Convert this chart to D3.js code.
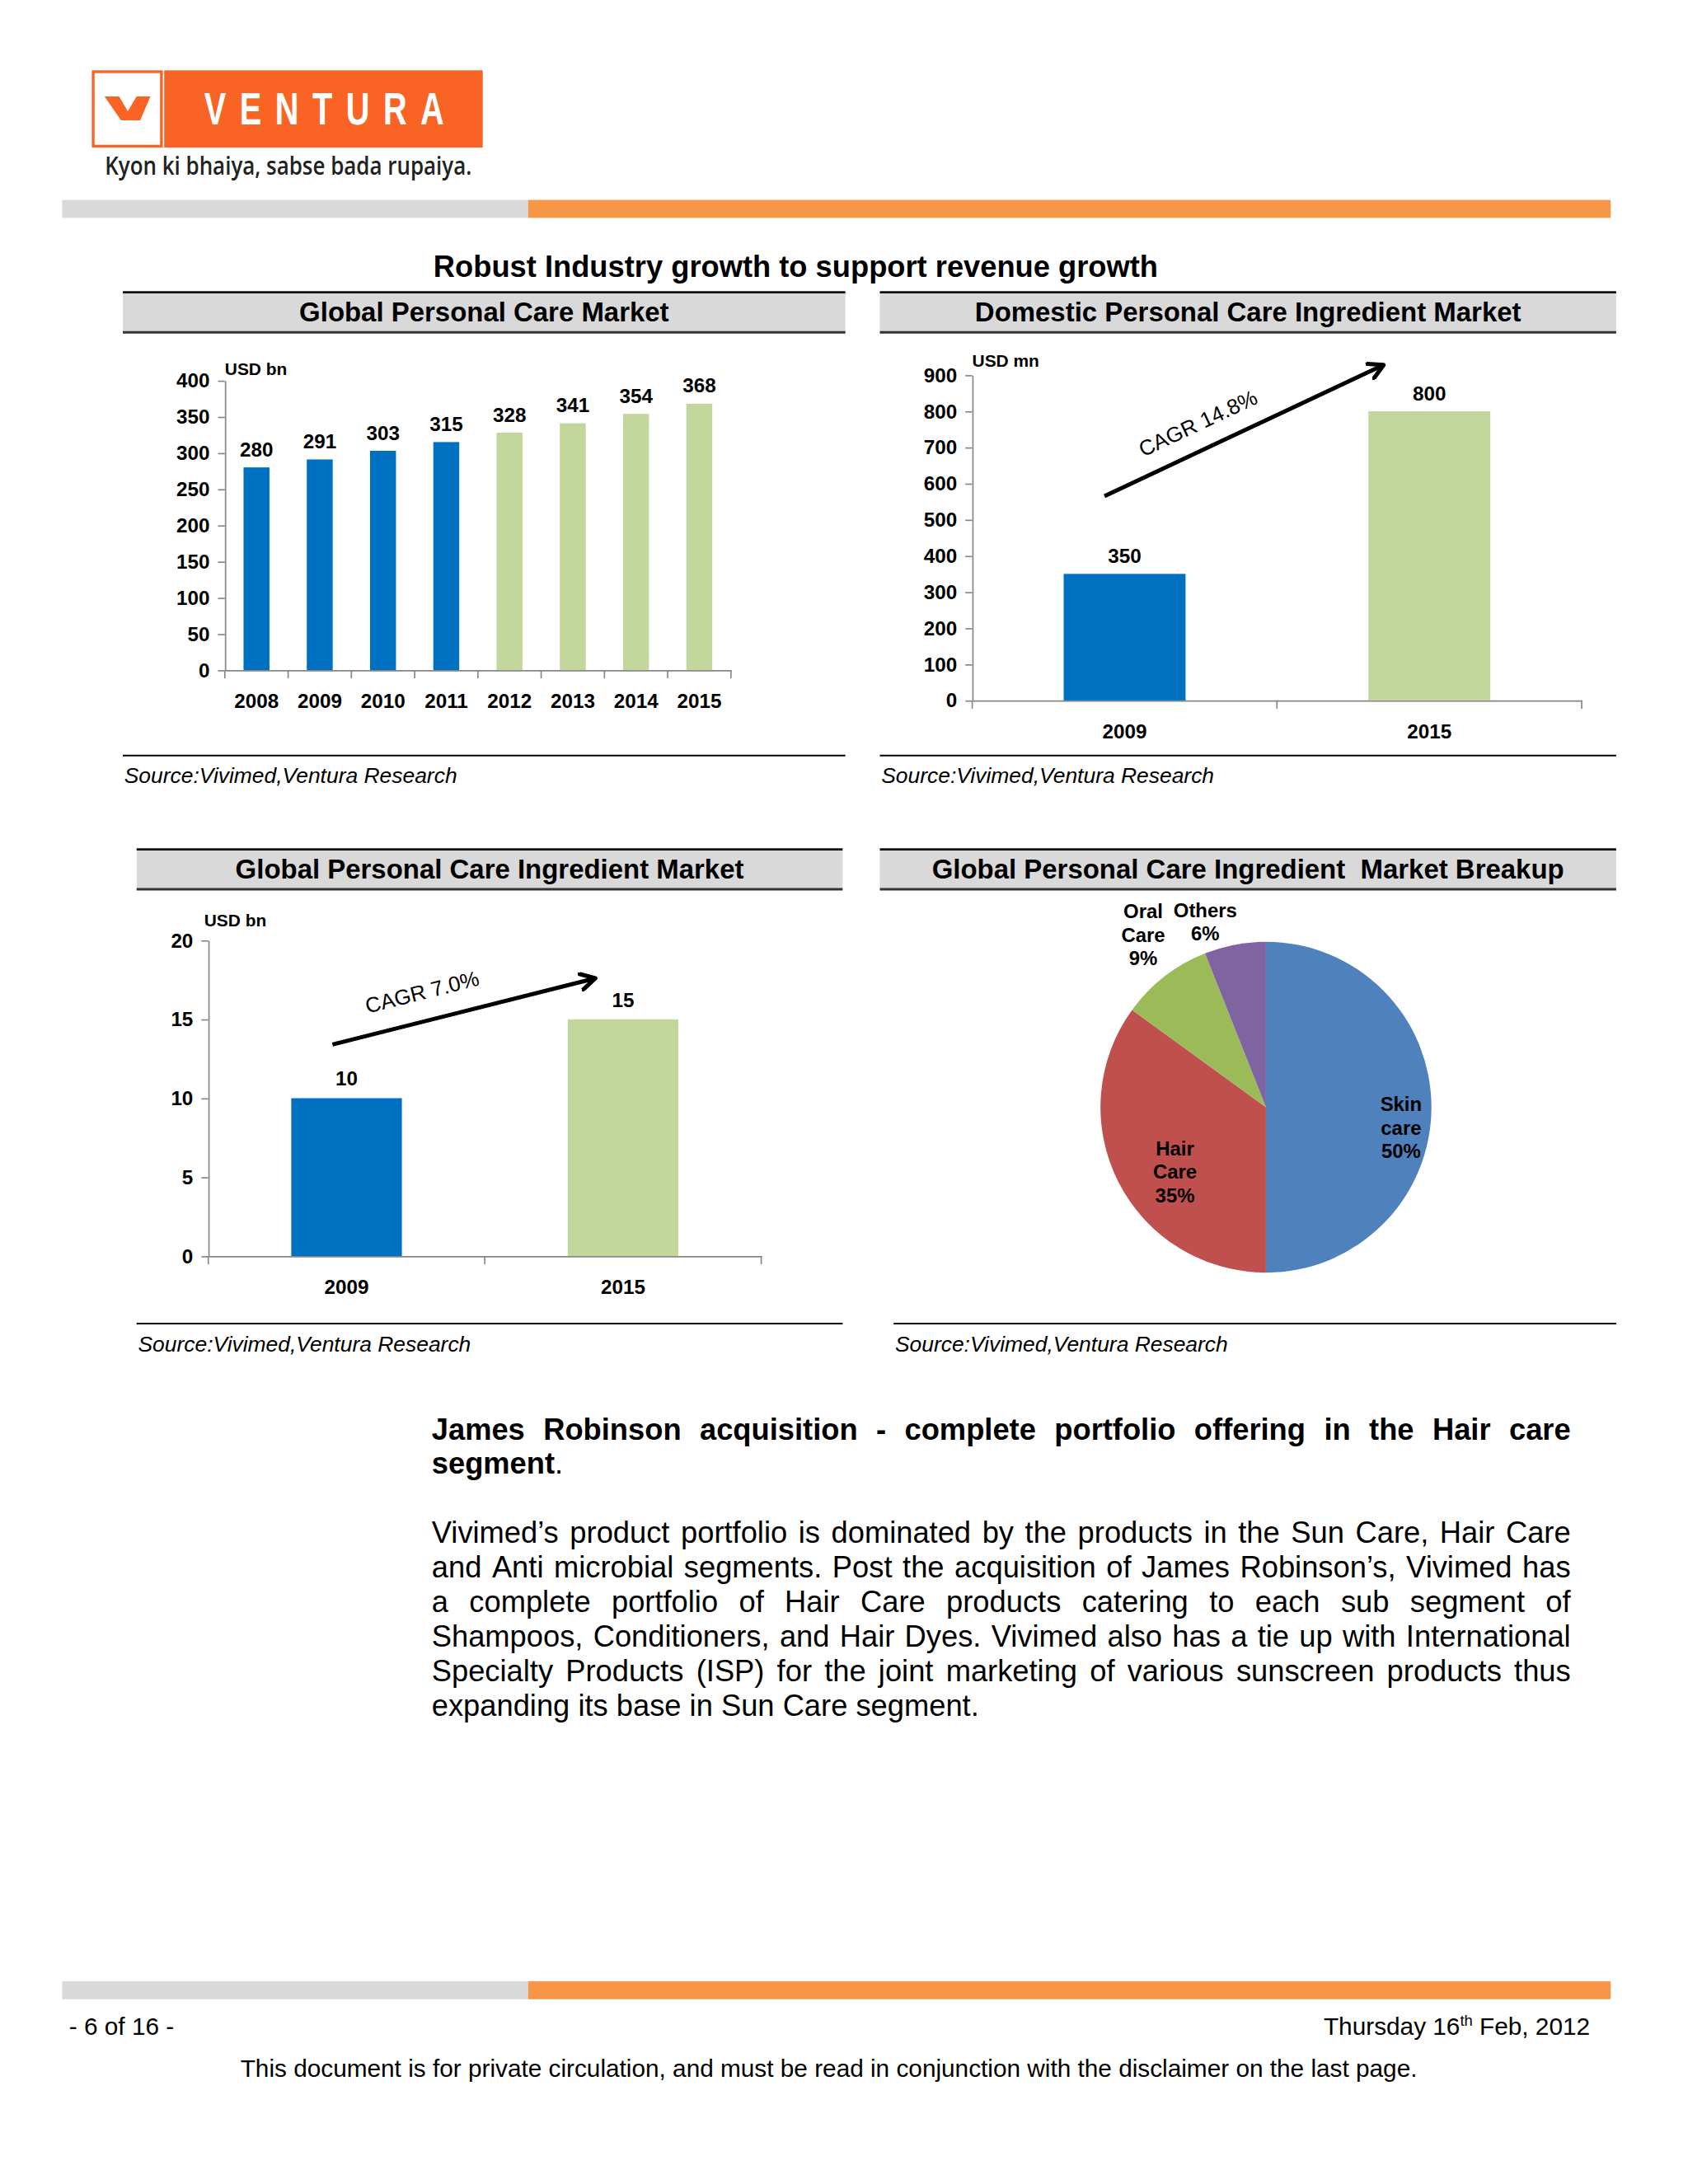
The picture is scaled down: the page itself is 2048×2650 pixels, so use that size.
<!DOCTYPE html>
<html>
<head>
<meta charset="utf-8">
<script src="https://cdn.jsdelivr.net/npm/d3@7"></script>
<style>
  body { margin: 0; background: #fff; }
  svg { display: block; }
  text { font-family: "Liberation Sans", Arial, sans-serif; }
</style>
</head>
<body>
<script>
// ---- data ----
const marketYears = ["2008", "2009", "2010", "2011", "2012", "2013", "2014", "2015"];
const marketValues = [280, 291, 303, 315, 328, 341, 354, 368];
const marketForecastYears = ["2012", "2013", "2014", "2015"];
const marketTicks = [0, 50, 100, 150, 200, 250, 300, 350, 400];

const domesticYears = ["2009", "2015"];
const domesticValues = [350, 800];
const domesticTicks = [0, 100, 200, 300, 400, 500, 600, 700, 800, 900];
const domesticCagr = "CAGR 14.8%";

const ingredientYears = ["2009", "2015"];
const ingredientValues = [10, 15];
const ingredientTicks = [0, 5, 10, 15, 20];
const ingredientCagr = "CAGR 7.0%";

const breakupNames = [["Skin", "care"], ["Hair", "Care"], ["Oral", "Care"], ["Others"]];
const breakupValues = [50, 35, 9, 6];

const bodyHeading = "James Robinson acquisition - complete portfolio offering in the Hair care";
const bodyLines = [
  "Vivimed\u2019s product portfolio is dominated by the products in the Sun Care, Hair Care",
  "and Anti microbial segments. Post the acquisition of James Robinson\u2019s, Vivimed has",
  "a complete portfolio of Hair Care products catering to each sub segment of",
  "Shampoos, Conditioners, and Hair Dyes. Vivimed also has a tie up with International",
  "Specialty Products (ISP) for the joint marketing of various sunscreen products thus",
  "expanding its base in Sun Care segment."
];

// ---- look ----
const BLUE = "#0070c0", GREEN = "#c3d69b", AXIS = "#868686";
const ORANGE = "#f96424", BAR_ORANGE = "#f79646", BAR_GREY = "#d9d9d9";
const pieColors = ["#4f81bd", "#c0504d", "#9bbb59", "#8064a2"];

// page drawn in a 1224 x 1584 frame, scaled up to the window
const svg = d3.select("body").append("svg")
  .attr("width", 2048).attr("height", 2650)
  .attr("viewBox", "0 0 1224 1584");

svg.append("defs").append("marker")
  .attr("id", "arrowhead")
  .attr("markerUnits", "userSpaceOnUse")
  .attr("viewBox", "0 0 12 12")
  .attr("markerWidth", 14).attr("markerHeight", 14)
  .attr("refX", 10).attr("refY", 6)
  .attr("orient", "auto")
  .append("path")
  .attr("d", "M1,1 L10,6 L1,11")
  .attr("fill", "none").attr("stroke", "#000").attr("stroke-width", 2.6)
  .attr("stroke-linecap", "round").attr("stroke-linejoin", "round");

// ---- header / logo ----
let logo = svg.append("g");
logo.append("rect").attr("x", 119).attr("y", 51).attr("width", 231).attr("height", 56).attr("fill", ORANGE);
logo.append("rect").attr("x", 67.5).attr("y", 52).attr("width", 49.5).attr("height", 54)
  .attr("fill", "#fff").attr("stroke", ORANGE).attr("stroke-width", 2);
logo.append("path")
  .attr("d", "M75.7,70 L86.3,70 L92.6,80.7 L99,70 L109,70 L101.6,87.3 L87.7,87.3 Z")
  .attr("fill", ORANGE);
// narrow, widely spaced letters
logo.append("text").text("VENTURA")
  .attr("transform", "translate(148,90.5) scale(0.72,1)")
  .attr("x", 0).attr("y", 0)
  .attr("textLength", 174 / 0.72).attr("lengthAdjust", "spacing")
  .attr("font-size", 33).attr("font-weight", "bold").attr("fill", "#fff");
logo.append("text").text("Kyon ki bhaiya, sabse bada rupaiya.")
  .attr("x", 76).attr("y", 127)
  .attr("textLength", 266).attr("lengthAdjust", "spacingAndGlyphs")
  .attr("font-size", 18).attr("font-weight", 600).attr("fill", "#222")
  .style("font-family", "'Open Sans', sans-serif");

function pageBar(y) {
  svg.append("rect").attr("x", 45).attr("y", y).attr("width", 338).attr("height", 13).attr("fill", BAR_GREY);
  svg.append("rect").attr("x", 383).attr("y", y).attr("width", 785).attr("height", 13).attr("fill", BAR_ORANGE);
}
pageBar(145);
pageBar(1437);

svg.append("text").text("Robust Industry growth to support revenue growth")
  .attr("x", 577).attr("y", 201).attr("text-anchor", "middle")
  .attr("font-size", 21.7).attr("font-weight", "bold");

// ---- panel frames ----
function panel(x0, x1, yTop, ySrc, title, srcX) {
  let g = svg.append("g");
  g.append("rect").attr("x", x0).attr("y", yTop).attr("width", x1 - x0).attr("height", 29).attr("fill", BAR_GREY);
  g.append("line").attr("x1", x0).attr("x2", x1).attr("y1", yTop).attr("y2", yTop)
    .attr("stroke", "#111").attr("stroke-width", 1.6);
  g.append("line").attr("x1", x0).attr("x2", x1).attr("y1", yTop + 29).attr("y2", yTop + 29)
    .attr("stroke", "#333").attr("stroke-width", 1.8);
  g.append("text").text(title)
    .attr("x", (x0 + x1) / 2).attr("y", yTop + 21).attr("text-anchor", "middle")
    .attr("font-size", 19.7).attr("font-weight", "bold").style("white-space", "pre");
  g.append("line").attr("x1", srcX).attr("x2", x1).attr("y1", ySrc).attr("y2", ySrc)
    .attr("stroke", "#000").attr("stroke-width", 1.2);
  g.append("text").text("Source:Vivimed,Ventura Research")
    .attr("x", srcX + 1).attr("y", ySrc + 20)
    .attr("font-size", 15.8).attr("font-style", "italic");
}
panel(89, 613, 212, 548, "Global Personal Care Market", 89);
panel(638, 1172, 212, 548, "Domestic Personal Care Ingredient Market", 638);
panel(99, 611, 616, 960, "Global Personal Care Ingredient Market", 99);
panel(638, 1172, 616, 960, "Global Personal Care Ingredient  Market Breakup", 648);

// ---- bar charts ----
function barChart(o) {
  let g = svg.append("g");
  let x = d3.scaleBand().domain(o.cats).range([o.x0, o.x1]);
  let y = d3.scaleLinear().domain([0, o.max]).range([o.y0, o.y1]);
  let bw = x.bandwidth(), barW = bw * o.barRatio;

  let ya = g.append("g").attr("transform", `translate(${o.x0},0)`)
    .call(d3.axisLeft(y).tickValues(o.ticks).tickSize(5).tickSizeOuter(0).tickPadding(6));
  let xa = g.append("g").attr("transform", `translate(0,${o.y0})`)
    .call(d3.axisBottom(x).tickSize(0).tickSizeOuter(0).tickPadding(o.catPad));
  [ya, xa].forEach(a => {
    a.select(".domain").attr("stroke", AXIS);
    a.selectAll(".tick line").attr("stroke", AXIS);
    a.selectAll(".tick text").attr("fill", "#000").attr("font-size", 14.5).attr("font-weight", "bold")
      .style("font-family", "'Liberation Sans', Arial, sans-serif");
  });
  // category boundary ticks
  let bounds = o.cats.map(c => x(c)).concat([o.x1]);
  g.selectAll(".bound").data(bounds).enter().append("line")
    .attr("x1", d => d).attr("x2", d => d)
    .attr("y1", o.y0).attr("y2", o.y0 + 6).attr("stroke", AXIS);

  let rows = o.cats.map((c, i) => ({ c: c, v: o.vals[i] }));
  g.selectAll(".bar").data(rows).enter().append("rect")
    .attr("x", d => x(d.c) + (bw - barW) / 2)
    .attr("y", d => y(d.v))
    .attr("width", barW)
    .attr("height", d => o.y0 - y(d.v))
    .attr("fill", d => o.color(d.c));
  g.selectAll(".val").data(rows).enter().append("text")
    .attr("x", d => x(d.c) + bw / 2)
    .attr("y", d => y(d.v) - o.labelGap)
    .attr("text-anchor", "middle")
    .attr("font-size", 14.5).attr("font-weight", "bold")
    .text(d => d.v);

  g.append("text").text(o.unit)
    .attr("x", o.x0 + o.unitDx).attr("y", o.y1 - o.unitDy)
    .attr("font-size", 12.5).attr("font-weight", "bold");

  if (o.arrow) {
    let a = o.arrow;
    let p0 = [x(a.from[0]) + bw * a.from[1], y(a.from[2])];
    let p1 = [x(a.to[0]) + bw * a.to[1], y(a.to[2])];
    g.append("line")
      .attr("x1", p0[0]).attr("y1", p0[1]).attr("x2", p1[0]).attr("y2", p1[1])
      .attr("stroke", "#000").attr("stroke-width", 3)
      .attr("marker-end", "url(#arrowhead)");
    let dx = p1[0] - p0[0], dy = p1[1] - p0[1], len = Math.hypot(dx, dy);
    let ux = dx / len, uy = dy / len;
    let nx = uy, ny = -ux; // normal pointing up
    let mx = (p0[0] + p1[0]) / 2 + ux * a.along + nx * a.lift;
    let my = (p0[1] + p1[1]) / 2 + uy * a.along + ny * a.lift;
    let ang = Math.atan2(dy, dx) * 180 / Math.PI;
    g.append("text").text(a.label)
      .attr("transform", `translate(${mx},${my}) rotate(${ang})`)
      .attr("text-anchor", "middle").attr("dominant-baseline", "central")
      .attr("font-size", 15.5);
  }
}

barChart({
  cats: marketYears, vals: marketValues, max: 400, ticks: marketTicks,
  x0: 163, x1: 530, y0: 486, y1: 276, barRatio: 0.41, catPad: 17, labelGap: 8,
  color: c => marketForecastYears.includes(c) ? GREEN : BLUE,
  unit: "USD bn", unitDx: 0, unitDy: 4
});

barChart({
  cats: domesticYears, vals: domesticValues, max: 900, ticks: domesticTicks,
  x0: 705, x1: 1147, y0: 508, y1: 272, barRatio: 0.4, catPad: 17, labelGap: 8,
  color: c => c === "2015" ? GREEN : BLUE,
  unit: "USD mn", unitDx: 0, unitDy: 6,
  arrow: { from: ["2009", 0.434, 565], to: ["2015", 0.35, 928], label: domesticCagr, along: -28, lift: 19 }
});

barChart({
  cats: ingredientYears, vals: ingredientValues, max: 20, ticks: ingredientTicks,
  x0: 151, x1: 552, y0: 911, y1: 682, barRatio: 0.4, catPad: 17, labelGap: 9,
  color: c => c === "2015" ? GREEN : BLUE,
  unit: "USD bn", unitDx: -3, unitDy: 10,
  arrow: { from: ["2009", 0.449, 13.4], to: ["2015", 0.40, 17.6], label: ingredientCagr, along: -26, lift: 21 }
});

// ---- pie ----
const pieCx = 918, pieCy = 803, pieR = 120;
const labelOffsets = [[98, 3], [-66, 35], [-89, -137], [-44, -138]];
let pg = svg.append("g").attr("transform", `translate(${pieCx},${pieCy})`);
let arcs = d3.pie().sort(null).value(d => d)(breakupValues);
let arcGen = d3.arc().innerRadius(0).outerRadius(pieR);
pg.selectAll(".slice").data(arcs).enter().append("path")
  .attr("d", arcGen)
  .attr("fill", (d, i) => pieColors[i]);
pg.selectAll(".plabel").data(arcs).enter().append("text")
  .attr("text-anchor", "middle").attr("font-size", 14.3).attr("font-weight", "bold")
  .attr("transform", (d, i) => `translate(${labelOffsets[i][0]},${labelOffsets[i][1]})`)
  .each(function (d, i) {
    let lines = breakupNames[i].concat([d.value + "%"]);
    d3.select(this).selectAll("tspan").data(lines).enter().append("tspan")
      .attr("x", 0).attr("dy", (l, j) => j === 0 ? 0 : 17)
      .text(l => l);
  });

// ---- body text ----
const textX = 313, textW = 826;
function justified(y, words, size, weight, stretch) {
  let g = svg.append("g");
  let items = words.map(w => {
    let t = g.append("text").attr("y", y).attr("font-size", size).attr("font-weight", weight).text(w);
    return { t: t, w: t.node().getComputedTextLength() };
  });
  let total = d3.sum(items, d => d.w);
  let spaceW = size * 0.278;
  let gap = stretch && items.length > 1 ? (textW - total) / (items.length - 1) : spaceW;
  let cx = textX;
  items.forEach(d => { d.t.attr("x", cx); cx += d.w + gap; });
}
justified(1044, bodyHeading.split(" "), 21.7, "bold", true);
let seg = svg.append("text").attr("x", textX).attr("y", 1069).attr("font-size", 21.7);
seg.append("tspan").attr("font-weight", "bold").text("segment");
seg.append("tspan").text(".");
bodyLines.forEach((l, i) => {
  justified(1119 + i * 25.1, l.split(" "), 21.7, "normal", i < bodyLines.length - 1);
});

// ---- footer ----
svg.append("text").text("- 6 of 16 -").attr("x", 50).attr("y", 1476).attr("font-size", 17.8);
let date = svg.append("text").attr("x", 1153).attr("y", 1476).attr("text-anchor", "end").attr("font-size", 17.8);
date.append("tspan").text("Thursday 16");
date.append("tspan").attr("dy", -7).attr("font-size", 11).text("th");
date.append("tspan").attr("dy", 7).text(" Feb, 2012");
svg.append("text")
  .text("This document is for private circulation, and must be read in conjunction with the disclaimer on the last page.")
  .attr("x", 601).attr("y", 1506).attr("text-anchor", "middle").attr("font-size", 17.8);
</script>
</body>
</html>
